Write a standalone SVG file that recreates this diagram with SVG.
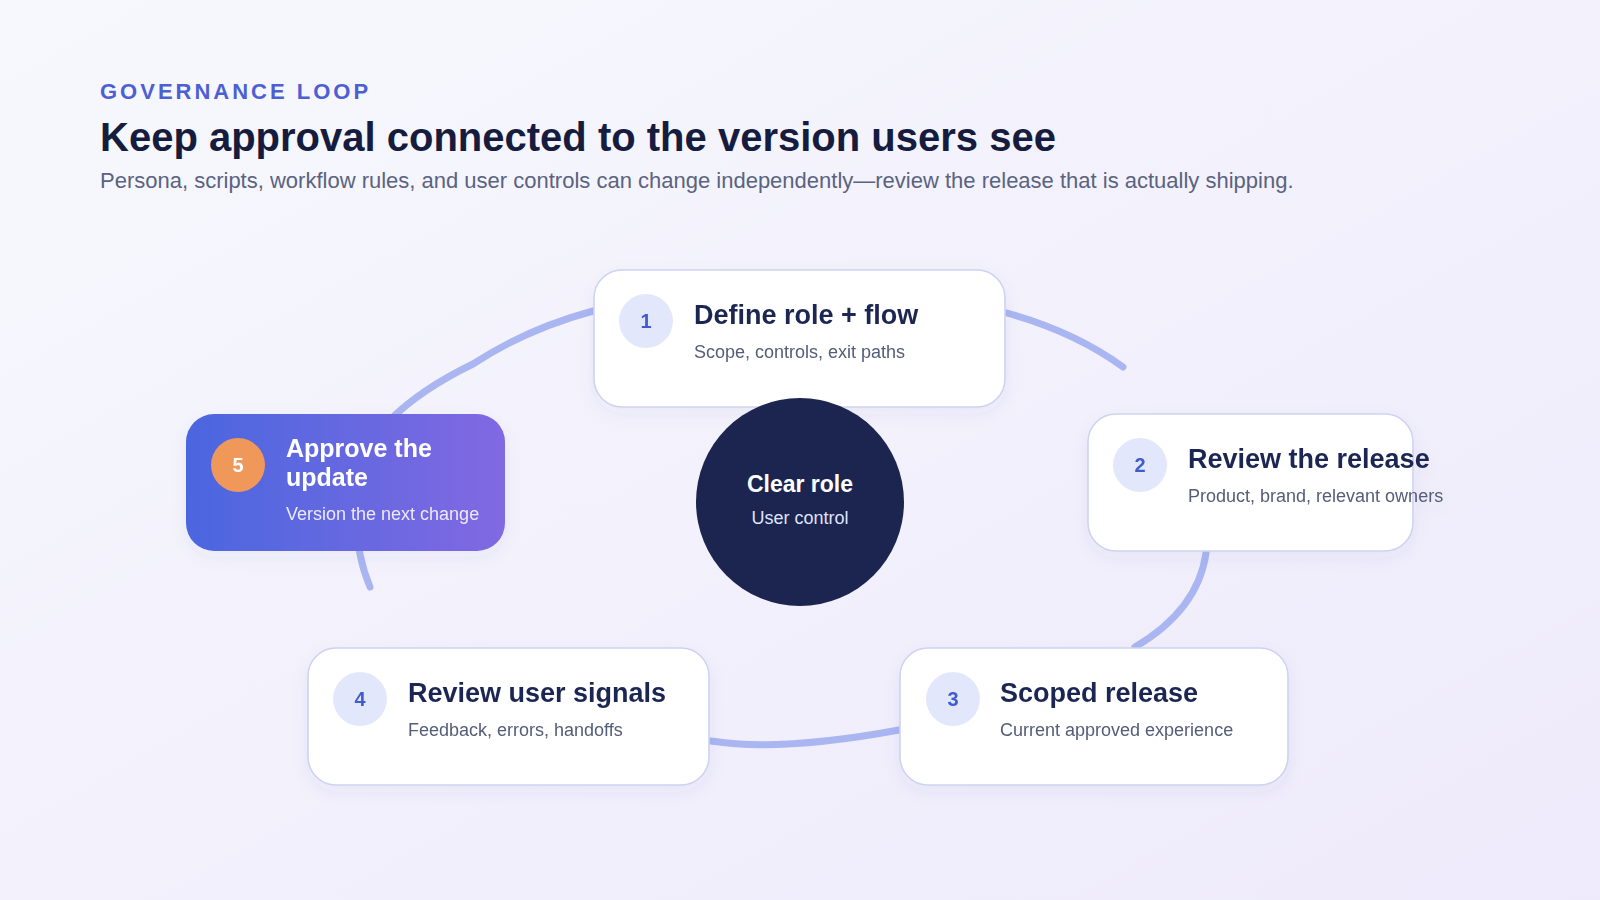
<svg xmlns="http://www.w3.org/2000/svg" width="1600" height="900" viewBox="0 0 1600 900">
  <defs>
    <linearGradient id="bg" x1="0" y1="0" x2="1" y2="1">
      <stop offset="0" stop-color="#f7f8fd"/>
      <stop offset="1" stop-color="#eeeafb"/>
    </linearGradient>
    <linearGradient id="hl" x1="0" y1="0" x2="1" y2="0">
      <stop offset="0" stop-color="#4a66df"/>
      <stop offset="1" stop-color="#8169e2"/>
    </linearGradient>
    <filter id="sh" x="-10%" y="-20%" width="120%" height="150%">
      <feDropShadow dx="0" dy="6" stdDeviation="8" flood-color="#3a3f8f" flood-opacity="0.06"/>
    </filter>
    <style>
      .card { fill: #ffffff; stroke: #cdd3f0; stroke-width: 1.6; }
      .badge { fill: #e3e7fb; }
      .num { font-family: "Liberation Sans", Arial, sans-serif; font-size: 20px; font-weight: 700; fill: #3f5bcf; text-anchor: middle; }
      .t { font-family: "Liberation Sans", Arial, sans-serif; font-size: 27px; font-weight: 700; fill: #1e2853; }
      .s { font-family: "Liberation Sans", Arial, sans-serif; font-size: 18px; fill: #545d78; }
      .link { fill: none; stroke: #aab6f1; stroke-width: 7; stroke-linecap: round; }
    </style>
  </defs>
  <rect width="1600" height="900" fill="url(#bg)"/>

  <g id="header">
    <text x="100" y="99" font-family="Liberation Sans, Arial, sans-serif" font-size="22" font-weight="700" letter-spacing="3" fill="#4c60d3">GOVERNANCE LOOP</text>
    <text x="100" y="151" font-family="Liberation Sans, Arial, sans-serif" font-size="40" font-weight="700" fill="#161c3e">Keep approval connected to the version users see</text>
    <text x="100" y="188" font-family="Liberation Sans, Arial, sans-serif" font-size="22" fill="#5a6380">Persona, scripts, workflow rules, and user controls can change independently—review the release that is actually shipping.</text>
  </g>

  <g id="connectors">
    <path class="link" d="M593,311 C545,324 505,343 473,364 C440,380 410,400 390,420 C350,465 350,540 370,587"/>
    <path class="link" d="M1007,313 Q1075,332 1123,367"/>
    <path class="link" d="M1206,553 Q1198,610 1135,647"/>
    <path class="link" d="M711,741 Q780,752 899,730"/>
  </g>

  <g id="node-1" filter="url(#sh)">
    <rect class="card" x="594" y="270" width="411" height="137" rx="28"/>
    <circle class="badge" cx="646" cy="321" r="27"/>
    <text class="num" x="646" y="328">1</text>
    <text class="t" x="694" y="324">Define role + flow</text>
    <text class="s" x="694" y="358">Scope, controls, exit paths</text>
  </g>

  <g id="node-2" filter="url(#sh)">
    <rect class="card" x="1088" y="414" width="325" height="137" rx="28"/>
    <circle class="badge" cx="1140" cy="465" r="27"/>
    <text class="num" x="1140" y="472">2</text>
    <text class="t" x="1188" y="468">Review the release</text>
    <text class="s" x="1188" y="502">Product, brand, relevant owners</text>
  </g>

  <g id="node-3" filter="url(#sh)">
    <rect class="card" x="900" y="648" width="388" height="137" rx="28"/>
    <circle class="badge" cx="953" cy="699" r="27"/>
    <text class="num" x="953" y="706">3</text>
    <text class="t" x="1000" y="702">Scoped release</text>
    <text class="s" x="1000" y="736">Current approved experience</text>
  </g>

  <g id="node-4" filter="url(#sh)">
    <rect class="card" x="308" y="648" width="401" height="137" rx="28"/>
    <circle class="badge" cx="360" cy="699" r="27"/>
    <text class="num" x="360" y="706">4</text>
    <text class="t" x="408" y="702">Review user signals</text>
    <text class="s" x="408" y="736">Feedback, errors, handoffs</text>
  </g>

  <g id="node-5" filter="url(#sh)">
    <rect x="186" y="414" width="319" height="137" rx="28" fill="url(#hl)"/>
    <circle cx="238" cy="465" r="27" fill="#f0985a"/>
    <text class="num" x="238" y="472" style="fill:#ffffff">5</text>
    <text class="t" x="286" y="457" style="fill:#ffffff;font-size:25px">Approve the</text>
    <text class="t" x="286" y="486" style="fill:#ffffff;font-size:25px">update</text>
    <text class="s" x="286" y="520" style="fill:#eceaff">Version the next change</text>
  </g>

  <g id="center">
    <circle cx="800" cy="502" r="104" fill="#1b2550"/>
    <text x="800" y="492" text-anchor="middle" font-family="Liberation Sans, Arial, sans-serif" font-size="23" font-weight="700" fill="#ffffff">Clear role</text>
    <text x="800" y="524" text-anchor="middle" font-family="Liberation Sans, Arial, sans-serif" font-size="18" fill="#dfe3ff">User control</text>
  </g>
</svg>
